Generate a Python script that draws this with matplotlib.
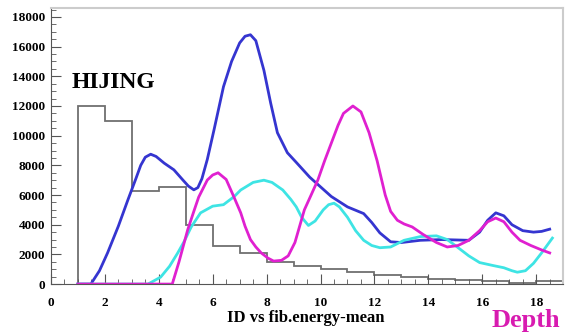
import numpy as np
import matplotlib
matplotlib.use('Agg')
import matplotlib.pyplot as plt
from matplotlib.ticker import MultipleLocator

# histogram (HIJING), bins of width 1 from 1 to 19
hist_edges = np.arange(1, 20)
hist_vals = [12000, 11000, 6300, 6550, 4000, 2550, 2100, 1500, 1250, 1000,
             820, 600, 470, 350, 280, 220, 100, 200]

# blue curve
blue_x = [1.0, 1.48, 1.8, 2.1, 2.5, 2.85, 3.15, 3.33, 3.5, 3.7, 3.9, 4.2, 4.56, 4.9, 5.1,
          5.3, 5.45, 5.6, 5.8, 6.05, 6.4, 6.7, 7.0, 7.2, 7.4, 7.6, 7.9, 8.15, 8.4, 8.77,
          9.1, 9.6, 10.0, 10.4, 11.0, 11.6, 11.9, 12.2, 12.6, 13.0, 13.7, 14.5, 15.5,
          15.9, 16.2, 16.5, 16.8, 17.1, 17.5, 17.9, 18.2, 18.5]
blue_y = [0, 0, 900, 2100, 3900, 5650, 7100, 8000, 8550, 8750, 8600, 8150, 7700, 7000, 6600,
          6350, 6500, 7100, 8400, 10400, 13300, 15000, 16250, 16700, 16800, 16400, 14400,
          12200, 10200, 8850, 8200, 7200, 6550, 5900, 5200, 4750, 4150, 3450, 2850, 2800,
          2950, 3000, 2950, 3500, 4300, 4800, 4600, 4000, 3600, 3500, 3550, 3700]

# cyan curve
cyan_x = [1.0, 3.6, 4.07, 4.4, 4.7, 4.95, 5.2, 5.55, 6.0, 6.4, 6.8, 7.04, 7.5, 7.9, 8.2,
          8.6, 8.9, 9.1, 9.3, 9.55, 9.8, 10.1, 10.3, 10.5, 10.7, 11.0, 11.3, 11.6, 11.9,
          12.2, 12.6, 13.1, 13.7, 14.3, 14.7, 15.07, 15.5, 15.9, 16.4, 16.8, 17.1, 17.3,
          17.6, 17.9, 18.2, 18.6]
cyan_y = [0, 0, 470, 1200, 2090, 2900, 3840, 4800, 5250, 5350, 5900, 6340, 6850, 7000, 6850,
          6340, 5700, 5200, 4500, 3950, 4250, 5000, 5350, 5450, 5200, 4500, 3600, 2950, 2600,
          2450, 2500, 2950, 3200, 3250, 3000, 2500, 1900, 1450, 1250, 1100, 900, 800,
          900, 1400, 2100, 3100]

# magenta curve
mag_x = [1.0, 4.5, 4.75, 5.07, 5.3, 5.48, 5.8, 6.0, 6.2, 6.5, 6.78, 7.04, 7.2, 7.4, 7.6,
         7.8, 8.05, 8.26, 8.55, 8.8, 9.05, 9.4, 9.65, 9.9, 10.15, 10.4, 10.65, 10.85, 11.2,
         11.5, 11.8, 12.1, 12.4, 12.6, 12.85, 13.1, 13.4, 13.8, 14.3, 14.7, 15.1, 15.5,
         15.9, 16.2, 16.5, 16.8, 17.1, 17.4, 17.8, 18.2, 18.5]
mag_y = [0, 0, 1500, 3640, 4900, 5860, 7010, 7350, 7500, 7050, 5900, 4800, 3900, 3000, 2500,
         2100, 1750, 1550, 1600, 1900, 2800, 5000, 6000, 7010, 8300, 9500, 10700, 11500,
         12000, 11600, 10200, 8300, 6000, 4900, 4300, 4050, 3850, 3350, 2800, 2500, 2600,
         2950, 3600, 4200, 4450, 4200, 3500, 2950, 2600, 2300, 2100]

serif = ['Liberation Serif', 'DejaVu Serif']

fig = plt.figure(figsize=(5.66, 3.35), dpi=100)
ax = fig.add_axes([0.090, 0.152, 0.905, 0.824])

ax.stairs(hist_vals, hist_edges, baseline=0, color='#707070', lw=1.3)
ax.plot(blue_x, blue_y, color='#3535d0', lw=2, solid_joinstyle='round')
ax.plot(cyan_x, cyan_y, color='#3ee4e4', lw=2, solid_joinstyle='round')
ax.plot(mag_x, mag_y, color='#e020d0', lw=2, solid_joinstyle='round')

ax.set_xlim(0, 19)
ax.set_ylim(0, 18600)
ax.xaxis.set_major_locator(MultipleLocator(2))
ax.xaxis.set_minor_locator(MultipleLocator(0.5))
ax.yaxis.set_major_locator(MultipleLocator(2000))
ax.yaxis.set_minor_locator(MultipleLocator(500))
ax.tick_params(which='both', direction='in', colors='#555555', labelcolor='black')
ax.tick_params(which='major', length=7)
ax.tick_params(which='minor', length=3.5)
ax.tick_params(axis='x', pad=9)
ax.tick_params(axis='y', pad=4)
for lab in ax.get_xticklabels() + ax.get_yticklabels():
    lab.set_family(serif)
    lab.set_fontweight('bold')
    lab.set_fontsize(9.5)

for s in ['left', 'bottom']:
    ax.spines[s].set_color('#555555')
for s in ['top', 'right']:
    ax.spines[s].set_color('#cccccc')
    ax.spines[s].set_linewidth(1.5)

ax.text(2.3, 13550, 'HIJING', family=serif, fontweight='bold', fontsize=17,
        ha='center', va='center', color='black')
fig.text(0.541, 0.05, 'ID vs fib.energy-mean', family=serif, fontweight='bold',
         fontsize=12, ha='center', va='center')
fig.text(0.929, 0.042, 'Depth', family=serif, fontweight='bold', fontsize=19,
         ha='center', va='center', color='#d81bb0')

fig.savefig('out.png', dpi=100)
